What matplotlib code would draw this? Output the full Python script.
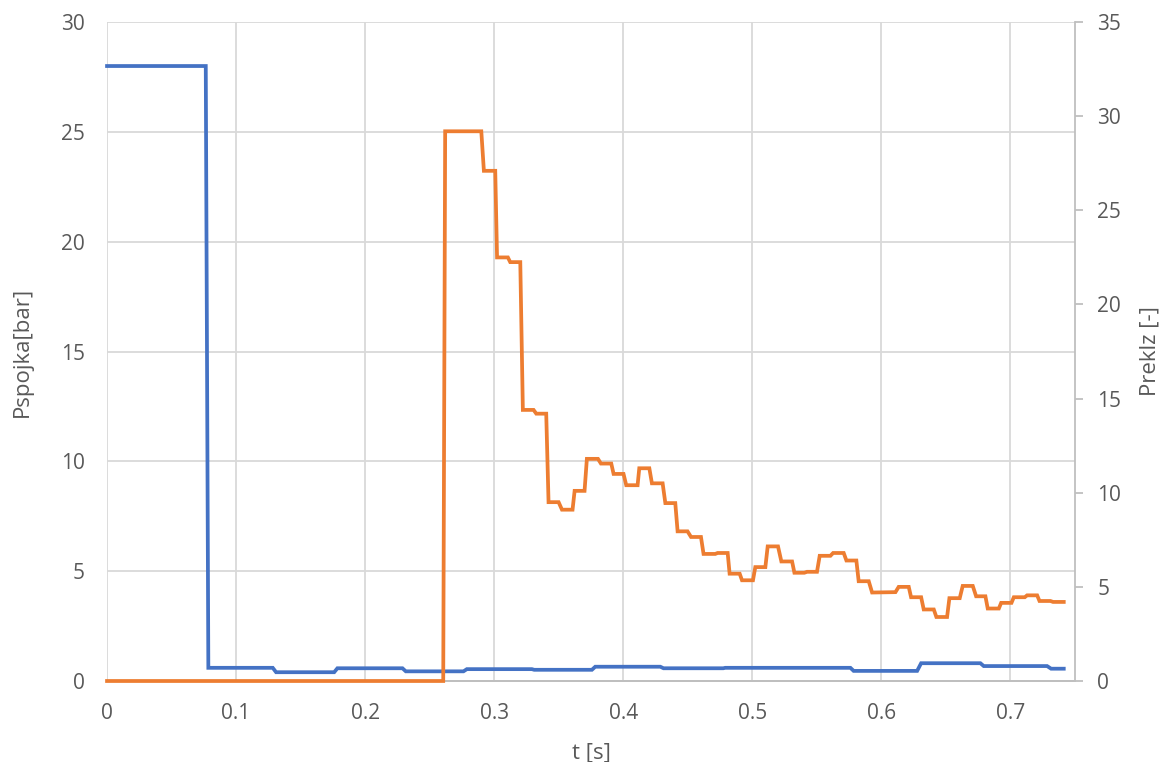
import matplotlib.pyplot as plt
import numpy as np

plt.rcParams["font.family"] = ["Open Sans", "DejaVu Sans"]

# Pspojka [bar] (left axis)
blue_t = [0, 0.0765, 0.0785, 0.1284, 0.1310, 0.1760, 0.1785, 0.2289, 0.2315,
          0.2762, 0.2788, 0.3292, 0.3310, 0.3757, 0.3783, 0.4287, 0.4312,
          0.4775, 0.4790, 0.5760, 0.5785, 0.6277, 0.6308, 0.6767, 0.6793,
          0.7284, 0.7315, 0.7413]
blue_v = [28, 28, 0.6, 0.6, 0.4, 0.4, 0.58, 0.58, 0.44,
          0.44, 0.54, 0.54, 0.51, 0.51, 0.65, 0.65, 0.58,
          0.58, 0.6, 0.6, 0.46, 0.46, 0.81, 0.81, 0.68,
          0.68, 0.56, 0.56]

# Preklz [-] (right axis)
orange_t = [0, 0.2605, 0.2620, 0.2900, 0.2920, 0.3008, 0.3022, 0.3106,
            0.3124, 0.3202, 0.3222, 0.3305, 0.3326, 0.3403, 0.3421, 0.3499,
            0.3525, 0.3607, 0.3623, 0.3700, 0.3718, 0.3804, 0.3827, 0.3907,
            0.3925, 0.4002, 0.4023, 0.4111, 0.4124, 0.4202, 0.4222, 0.4305,
            0.4326, 0.4403, 0.4421, 0.4498, 0.4525, 0.4602, 0.4622, 0.4713,
            0.4731, 0.4809, 0.4824, 0.4902, 0.4920, 0.5005, 0.5023, 0.5101,
            0.5119, 0.5199, 0.5225, 0.5308, 0.5326, 0.5403, 0.5424, 0.5501,
            0.5522, 0.5605, 0.5626, 0.5708, 0.5729, 0.5806, 0.5824, 0.5902,
            0.5928, 0.6109, 0.6134, 0.6212, 0.6230, 0.6308, 0.6328, 0.6406,
            0.6426, 0.6509, 0.6527, 0.6607, 0.6630, 0.6708, 0.6734, 0.6806,
            0.6824, 0.6910, 0.6928, 0.7008, 0.7026, 0.7111, 0.7129, 0.7207,
            0.7225, 0.7310, 0.7330, 0.7413]
orange_v = [0, 0, 29.2, 29.2, 27.1, 27.1, 22.5, 22.5,
            22.25, 22.25, 14.4, 14.4, 14.2, 14.2, 9.5, 9.5,
            9.1, 9.1, 10.1, 10.1, 11.8, 11.8, 11.55, 11.55,
            11.0, 11.0, 10.4, 10.4, 11.3, 11.3, 10.5, 10.5,
            9.45, 9.45, 7.95, 7.95, 7.65, 7.65, 6.75, 6.75,
            6.8, 6.8, 5.7, 5.7, 5.35, 5.35, 6.05, 6.05,
            7.15, 7.15, 6.35, 6.35, 5.75, 5.75, 5.8, 5.8,
            6.65, 6.65, 6.8, 6.8, 6.4, 6.4, 5.3, 5.3,
            4.7, 4.72, 5.0, 5.0, 4.45, 4.45, 3.8, 3.8,
            3.4, 3.4, 4.4, 4.4, 5.05, 5.05, 4.5, 4.5,
            3.85, 3.85, 4.15, 4.15, 4.45, 4.45, 4.55, 4.55,
            4.25, 4.25, 4.2, 4.2]

x_ticks = [0, 0.1, 0.2, 0.3, 0.4, 0.5, 0.6, 0.7]
x_labels = ["0", "0.1", "0.2", "0.3", "0.4", "0.5", "0.6", "0.7"]

text_col = "#595959"
grid_col = "#d9d9d9"

fig = plt.figure(figsize=(11.71, 7.62), dpi=100)
ax = fig.add_axes([0.0914, 0.1063, 0.8266, 0.8647])
ax2 = ax.twinx()

ax.plot(blue_t, blue_v, color="#4472C4", lw=2.7, solid_joinstyle="miter",
        zorder=3, clip_on=False)
ax2.plot(orange_t, orange_v, color="#ED7D31", lw=2.7, solid_joinstyle="miter",
         zorder=3, clip_on=False)

ax.set_xlim(0, 0.75)
ax.set_ylim(0, 30)
ax2.set_ylim(0, 35)
ax.set_xticks(x_ticks)
ax.set_xticklabels(x_labels)
ax.set_yticks(np.arange(0, 31, 5))
ax2.set_yticks(np.arange(0, 36, 5))

ax.grid(True, color=grid_col, lw=1.3)
ax.set_axisbelow(True)

for a in (ax, ax2):
    for s in ("top", "left", "right"):
        a.spines[s].set_visible(False)
    a.spines["bottom"].set_color("#bfbfbf")
    a.spines["bottom"].set_linewidth(1.3)
ax2.spines["right"].set_visible(True)
ax2.spines["right"].set_color("#bfbfbf")
ax2.spines["right"].set_linewidth(1.3)

ax.tick_params(axis="both", length=0, labelsize=15, labelcolor=text_col)
ax.tick_params(axis="y", pad=16)
ax.tick_params(axis="x", pad=16)
ax2.tick_params(axis="y", length=6, width=1.3, color="#bfbfbf", labelsize=15,
                labelcolor=text_col, pad=10)

ax.set_xlabel("t [s]", fontsize=16, color=text_col, labelpad=13)
ax.set_ylabel("Pspojka[bar]", fontsize=16, color=text_col, labelpad=20)
ax2.set_ylabel("Preklz [-]", fontsize=16, color=text_col, labelpad=13)

fig.savefig("out.png", dpi=100)
